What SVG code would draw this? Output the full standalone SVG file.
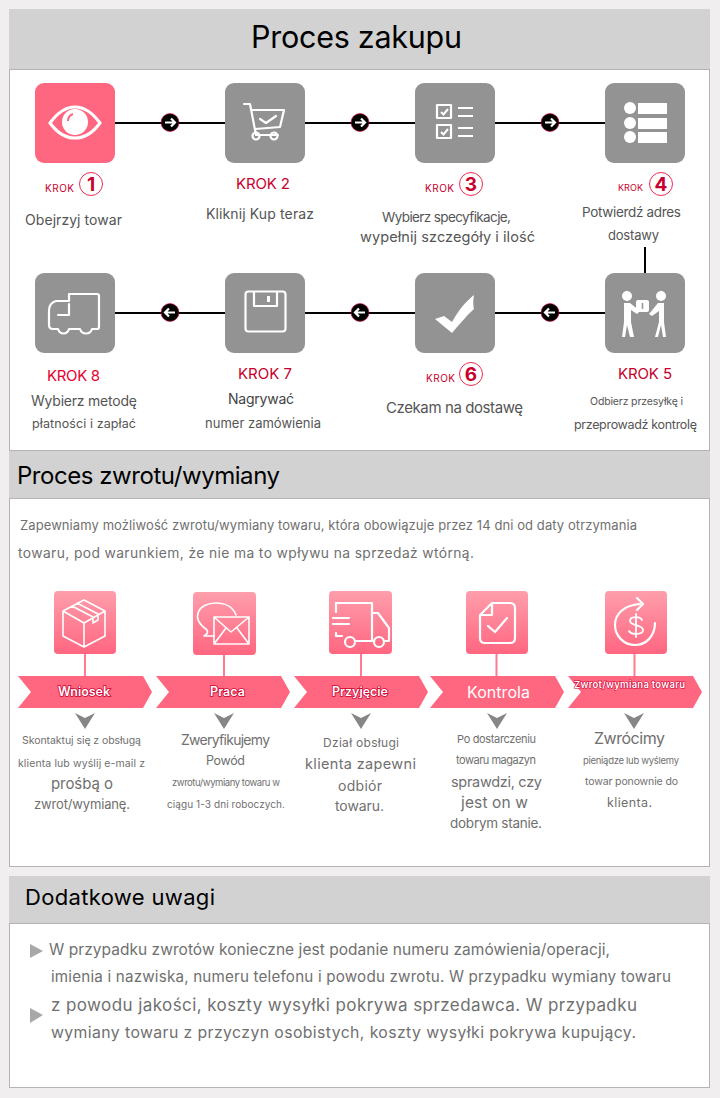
<svg xmlns="http://www.w3.org/2000/svg" xmlns:xlink="http://www.w3.org/1999/xlink" width="720" height="1098" viewBox="0 0 720 1098">
<style>
text{font-family:"Inter","Roboto","Noto Sans","Liberation Sans",sans-serif;fill:#555}
.head{fill:#d2d2d2}
.panel{fill:#fff;stroke:#b4b4b4;stroke-width:1}
.h{fill:#000}
.red{fill:#c8002d}
.krok{fill:#c8002d}
.num{fill:#c8002d;font-size:19px;font-weight:700;text-anchor:middle}
.ring{fill:#fff;stroke:#ee2a4f;stroke-width:1}
.g{fill:#939393}
.ic{fill:none;stroke:#fff;stroke-width:2.2;stroke-linecap:round;stroke-linejoin:round}
.ic2{fill:none;stroke:#fff;stroke-width:1.6;stroke-linecap:round;stroke-linejoin:round}
.w{fill:#fff}
.line{stroke:#000;stroke-width:2;fill:none}
.stem{stroke:#ff7b90;stroke-width:2}
.ban{fill:#ff6680}
.bt{fill:#fff;stroke:#d00030;stroke-width:1.6;paint-order:stroke;font-weight:600;text-anchor:start}
.tri{fill:#868686}
.t{fill:#707070}
.bul{fill:#a8a8a8}
</style>
<defs>
<linearGradient id="pk" x1="0" y1="0" x2="0" y2="1"><stop offset="0" stop-color="#fe9eac"/><stop offset="1" stop-color="#ff6680"/></linearGradient>
<g id="ar"><circle r="9" fill="#000" stroke="#d8003a" stroke-width="0.6"/><path d="M-5 0H5M1 -4L5 0L1 4" fill="none" stroke="#fff" stroke-width="2.200"/></g>
<g id="al"><circle r="9" fill="#000" stroke="#d8003a" stroke-width="0.6"/><path d="M5 0H-5M-1 -4L-5 0L-1 4" fill="none" stroke="#fff" stroke-width="2.200"/></g>
<path id="dn" class="tri" d="M-10 -8L0 -3L10 -8L0 8Z"/>
</defs>
<rect width="720" height="1098" fill="#f0eeef"/>

<g id="section-zakup">
<rect class="panel" x="9.500" y="69.500" width="700" height="381"/>
<rect class="head" x="9" y="9" width="701" height="60"/>
<text class="h" x="251" y="48" font-size="30.500" textLength="211">Proces zakupu</text>
</g>

<g id="connectors">
<path class="line" d="M115 123H225M305 123H415M495 123H605M645 247V273M605 313H495M415 313H305M225 313H115"/>
<use xlink:href="#ar" href="#ar" x="170" y="122.500"/>
<use xlink:href="#ar" href="#ar" x="360" y="122.500"/>
<use xlink:href="#ar" href="#ar" x="550" y="122.500"/>
<use xlink:href="#al" href="#al" x="550" y="312.500"/>
<use xlink:href="#al" href="#al" x="360" y="312.500"/>
<use xlink:href="#al" href="#al" x="170" y="312.500"/>
</g>

<g id="step1">
<rect x="35" y="83" width="80" height="80" rx="9" fill="#ff6680"/>
<path d="M50 123C58 112 67 107 75 107C83 107 92 112 100 123C92 134 83 138 75 138C67 138 58 134 50 123Z" fill="none" stroke="#fff" stroke-width="3"/>
<circle cx="75" cy="122" r="13" class="w"/>
<path d="M68 121C68 117 70 115 73 114" fill="none" stroke="#ff6680" stroke-width="2"/>
<text class="krok" x="45" y="192" font-size="10" textLength="29">KROK</text>
<circle class="ring" cx="91" cy="184" r="11.500"/><text class="num" x="91" y="191">1</text>
<text x="25" y="225" font-size="14" textLength="97">Obejrzyj towar</text>
</g>

<g id="step2">
<rect class="g" x="225" y="83" width="80" height="80" rx="9"/>
<path class="ic" d="M244 104H250L256 135H278M252 110H284L280 127L255 129"/>
<path class="ic" d="M260 119L266 123L276 116"/>
<circle class="ic" cx="256" cy="136" r="3.500"/><circle class="ic" cx="274" cy="136" r="3.500"/>
<text class="red" x="236" y="189" font-size="15" textLength="54">KROK 2</text>
<text x="206" y="219" font-size="14" textLength="108">Kliknij Kup teraz</text>
</g>

<g id="step3">
<rect class="g" x="415" y="83" width="80" height="80" rx="9"/>
<path class="ic" d="M437 105H451V118H437ZM437 125H451V138H437Z"/>
<path d="M441 112L443.500 114.500L448 109M441 132L443.500 134.500L448 129" fill="none" stroke="#fff" stroke-width="2"/>
<path class="ic" style="stroke-linecap:butt" d="M458 108H473M458 116H473M458 128H473M458 136H473"/>
<text class="krok" x="425" y="192" font-size="10" textLength="29">KROK</text>
<circle class="ring" cx="471" cy="184" r="11.500"/><text class="num" x="471" y="191">3</text>
<text x="382" y="222" font-size="13.500" textLength="129">Wybierz specyfikacje,</text>
<text x="360" y="242" font-size="14.500" textLength="175">wypełnij szczegóły i ilość</text>
</g>

<g id="step4">
<rect class="g" x="605" y="83" width="80" height="80" rx="9"/>
<circle class="w" cx="630" cy="108" r="6"/><circle class="w" cx="630" cy="123" r="6"/><circle class="w" cx="630" cy="137" r="6"/>
<rect class="w" x="638" y="103" width="29" height="11"/><rect class="w" x="638" y="118" width="29" height="11"/><rect class="w" x="638" y="132" width="29" height="11"/>
<text class="krok" x="618" y="191" font-size="9" textLength="25">KROK</text>
<circle class="ring" cx="661" cy="184" r="11.500"/><text class="num" x="661" y="191">4</text>
<text x="582" y="217" font-size="13.500" textLength="99">Potwierdź adres</text>
<text x="608" y="240" font-size="13" textLength="51">dostawy</text>
</g>

<g id="step5">
<rect class="g" x="605" y="273" width="80" height="80" rx="9"/>
<circle class="w" cx="627" cy="296" r="5"/><circle class="w" cx="661" cy="296" r="5"/>
<path class="w" d="M624 303H630L640 311L637 314L631 310V322L634 337H630L627 325L625 337H622L624 322Z"/>
<path class="w" d="M658 303H664V322L666 337H663L661 325L658 337H655L659 322V311L652 316L649 314Z"/>
<rect class="w" x="636" y="300" width="13" height="12" rx="2"/>
<path d="M642.500 303V309" stroke="#939393" stroke-width="1.500"/>
<text class="red" x="618" y="379" font-size="15" textLength="54">KROK 5</text>
<text x="590" y="405" font-size="10.500" textLength="93">Odbierz przesyłkę i</text>
<text x="574" y="429" font-size="12.500" textLength="123">przeprowadź kontrolę</text>
</g>

<g id="step6">
<rect class="g" x="415" y="273" width="80" height="80" rx="9"/>
<path class="w" d="M435 319L444 316L452 322C458 311 465 302 474 295C473 301 473 306 474 309C466 316 459 325 452 333Z"/>
<text class="krok" x="426" y="382" font-size="10" textLength="29">KROK</text>
<circle class="ring" cx="471" cy="374" r="11.500"/><text class="num" x="471" y="381">6</text>
<text x="386" y="413" font-size="15" textLength="137">Czekam na dostawę</text>
</g>

<g id="step7">
<rect class="g" x="225" y="273" width="80" height="80" rx="9"/>
<rect class="ic" x="245.500" y="291.500" width="40" height="40" rx="3"/>
<path class="ic" d="M254 292V306H277V292"/>
<rect class="w" x="267" y="296" width="3" height="6"/>
<text class="red" x="238" y="379" font-size="15" textLength="54">KROK 7</text>
<text x="228" y="404" font-size="14" style="fill:#444" textLength="66">Nagrywać</text>
<text x="205" y="428" font-size="13" textLength="116">numer zamówienia</text>
</g>

<g id="step8">
<rect class="g" x="35" y="273" width="80" height="80" rx="9"/>
<path class="ic" d="M69 294H97Q99 294 99 296V327Q99 329 97 329H92C90 335 82 335 80 329H69C67 335 60 335 58 329H53Q49 329 49 325V311Q49 303 56 301L69 301ZM69 294V301"/>
<path class="ic" d="M69 304V315H58"/>
<text style="fill:#e8002f" x="47" y="381" font-size="15" textLength="53">KROK 8</text>
<text x="31" y="406" font-size="14" textLength="106">Wybierz metodę</text>
<text x="32" y="428" font-size="12.500" textLength="104">płatności i zapłać</text>
</g>

<g id="section-zwrot">
<rect class="panel" x="9.500" y="498.500" width="700" height="368"/>
<rect class="head" x="9" y="451" width="701" height="47"/>
<text class="h" x="17" y="484" font-size="24" textLength="263">Proces zwrotu/wymiany</text>
<text class="t" x="20" y="530" font-size="13" textLength="617">Zapewniamy możliwość zwrotu/wymiany towaru, która obowiązuje przez 14 dni od daty otrzymania</text>
<text class="t" x="18" y="558" font-size="13.800" textLength="456">towaru, pod warunkiem, że nie ma to wpływu na sprzedaż wtórną.</text>
</g>

<g id="wniosek">
<rect x="54" y="591" width="62" height="63" rx="4" fill="url(#pk)"/>
<path class="ic2" d="M84 600L105 611V636L84 647L63 636V611ZM63 611L84 623L105 611M84 623V647M72 606L93 617V623L98 620V614L77 603"/>
<path class="stem" d="M85 654V676"/>
<path class="ban" d="M18 676H143L152 692L143 708H18L31 692Z"/>
<text class="bt" x="58" y="696" font-size="12.500" textLength="52">Wniosek</text>
<use xlink:href="#dn" href="#dn" x="85" y="721"/>
<text class="t" x="22" y="744" font-size="10.500" textLength="119">Skontaktuj się z obsługą</text>
<text class="t" x="18" y="767" font-size="10.500" textLength="127">klienta lub wyślij e-mail z</text>
<text class="t" x="51" y="789" font-size="15" textLength="62">prośbą o</text>
<text class="t" x="34" y="809" font-size="13" textLength="96">zwrot/wymianę.</text>
</g>

<g id="praca">
<rect x="193" y="592" width="63" height="63" rx="4" fill="url(#pk)"/>
<path class="ic2" d="M214 636H204C208 634 208 632 207 630C190 618 198 603 216 603C225 603 233 607 236 615"/>
<path class="ic2" d="M214 617H249V644H214ZM214 617L231 632L249 617M214 644L226 628M249 644L237 628"/>
<path class="stem" d="M224 655V676"/>
<path class="ban" d="M156 676H281L290 692L281 708H156L169 692Z"/>
<text class="bt" x="210" y="696" font-size="12.500" textLength="35">Praca</text>
<use xlink:href="#dn" href="#dn" x="224" y="721"/>
<text class="t" x="181" y="745" font-size="14" textLength="89">Zweryfikujemy</text>
<text class="t" x="206" y="765" font-size="12.500" textLength="39">Powód</text>
<text class="t" x="172" y="786" font-size="9.500" textLength="108">zwrotu/wymiany towaru w</text>
<text class="t" x="167" y="808" font-size="10" textLength="118">ciągu 1-3 dni roboczych.</text>
</g>

<g id="przyjecie">
<rect x="329" y="591" width="63" height="63" rx="4" fill="url(#pk)"/>
<path class="ic" d="M336 612V603H372V641H356M336 633V636H342M372 613H378L389 628V641H385M372 641H373M333 618H349M333 624H349"/>
<circle class="ic" cx="350" cy="642" r="5"/><circle class="ic" cx="379" cy="642" r="5"/>
<path class="stem" d="M361 654V676"/>
<path class="ban" d="M294 676H419L428 692L419 708H294L307 692Z"/>
<text class="bt" x="332" y="696" font-size="12.500" textLength="56">Przyjęcie</text>
<use xlink:href="#dn" href="#dn" x="361" y="721"/>
<text class="t" x="323" y="747" font-size="12" textLength="76">Dział obsługi</text>
<text class="t" x="305" y="769" font-size="14.500" textLength="111">klienta zapewni</text>
<text class="t" x="338" y="791" font-size="14" textLength="44">odbiór</text>
<text class="t" x="335" y="811" font-size="14" textLength="49">towaru.</text>
</g>

<g id="kontrola">
<rect x="466" y="591" width="62" height="63" rx="4" fill="url(#pk)"/>
<path class="ic" d="M492 603H510Q515 603 515 608V638Q515 643 510 643H485Q480 643 480 638V615ZM492 603V615H480"/>
<path class="ic" d="M488 626L495 632L507 618"/>
<path class="stem" d="M496.500 654V676"/>
<path class="ban" d="M430 676H555L564 692L555 708H430L443 692Z"/>
<text x="467" y="698" font-size="16" style="fill:#fff" textLength="63">Kontrola</text>
<use xlink:href="#dn" href="#dn" x="497" y="721"/>
<text class="t" x="457" y="743" font-size="11" textLength="79">Po dostarczeniu</text>
<text class="t" x="456" y="764" font-size="11" textLength="80">towaru magazyn</text>
<text class="t" x="451" y="787" font-size="14.500" textLength="91">sprawdzi, czy</text>
<text class="t" x="461" y="808" font-size="15.500" textLength="67">jest on w</text>
<text class="t" x="450" y="828" font-size="13.500" textLength="92">dobrym stanie.</text>
</g>

<g id="zwrot">
<rect x="605" y="591" width="62" height="63" rx="4" fill="url(#pk)"/>
<path class="ic" d="M655 623C655 636 646 645 635 645C624 645 615 636 615 625C615 614 624 605 640 604"/>
<path class="ic" d="M637 598L643 604L637 610"/>
<path class="ic" style="stroke-width:1.800" d="M642 620C640 616 630 616 630 621C630 626 643 624 643 630C643 635 631 635 629 631M636 614V637"/>
<path class="stem" d="M634.500 654V676"/>
<path class="ban" d="M568 676H693L702 692L693 708H568L581 692Z"/>
<text class="bt" x="574" y="688" font-size="9.500" style="stroke-width:1.200" textLength="111">Zwrot/wymiana towaru</text>
<use xlink:href="#dn" href="#dn" x="634" y="721"/>
<text class="t" x="594" y="744" font-size="16" textLength="71">Zwrócimy</text>
<text class="t" x="583" y="764" font-size="9.500" textLength="96">pieniądze lub wyślemy</text>
<text class="t" x="585" y="785" font-size="10.500" textLength="93">towar ponownie do</text>
<text class="t" x="607" y="807" font-size="12.500" textLength="45">klienta.</text>
</g>

<g id="section-uwagi">
<rect class="panel" x="9.500" y="923.500" width="700" height="164"/>
<rect class="head" x="9" y="876" width="701" height="47"/>
<text class="h" x="25" y="905" font-size="22" textLength="190">Dodatkowe uwagi</text>
<path class="bul" d="M30 944L43 951L30 958Z"/>
<path class="bul" d="M30 1008L43 1015L30 1023Z"/>
<text class="t" x="49" y="955" font-size="15.500" textLength="561">W przypadku zwrotów konieczne jest podanie numeru zamówienia/operacji,</text>
<text class="t" x="51" y="982" font-size="15.200" textLength="620">imienia i nazwiska, numeru telefonu i powodu zwrotu. W przypadku wymiany towaru</text>
<text class="t" x="51" y="1011" font-size="17" textLength="586">z powodu jakości, koszty wysyłki pokrywa sprzedawca. W przypadku</text>
<text class="t" x="51" y="1038" font-size="15.800" textLength="585">wymiany towaru z przyczyn osobistych, koszty wysyłki pokrywa kupujący.</text>
</g>
</svg>
